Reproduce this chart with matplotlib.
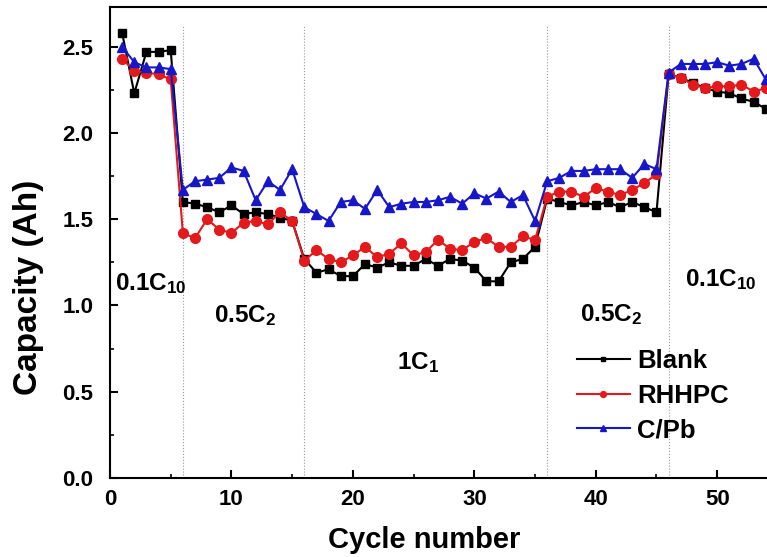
import matplotlib
matplotlib.use("Agg")
import matplotlib.pyplot as plt
import numpy as np

plt.rcParams['font.family'] = ['Liberation Sans', 'DejaVu Sans']
plt.rcParams['font.weight'] = 'bold'
plt.rcParams['mathtext.fontset'] = 'custom'
plt.rcParams['mathtext.rm'] = 'Liberation Sans:bold'
plt.rcParams['mathtext.bf'] = 'Liberation Sans:bold'
plt.rcParams['mathtext.default'] = 'bf'

cycles = np.arange(1, 55)

blank = [2.58, 2.23, 2.47, 2.47, 2.48,
         1.60, 1.59, 1.57, 1.54, 1.58, 1.53, 1.54, 1.53, 1.51, 1.49,
         1.27, 1.19, 1.21, 1.17, 1.17, 1.24, 1.22, 1.25, 1.23, 1.23,
         1.27, 1.23, 1.27, 1.26, 1.22, 1.14, 1.14, 1.25, 1.27, 1.34,
         1.62, 1.60, 1.58, 1.60, 1.58, 1.60, 1.57, 1.60, 1.57, 1.54,
         2.34, 2.32, 2.29, 2.26, 2.24, 2.23, 2.20, 2.18, 2.14]

rhhpc = [2.43, 2.36, 2.35, 2.34, 2.31,
         1.42, 1.39, 1.50, 1.44, 1.42, 1.48, 1.49, 1.47, 1.54, 1.49,
         1.26, 1.32, 1.27, 1.25, 1.29, 1.34, 1.28, 1.30, 1.36, 1.29,
         1.31, 1.38, 1.33, 1.32, 1.37, 1.39, 1.34, 1.34, 1.40, 1.38,
         1.63, 1.66, 1.66, 1.63, 1.68, 1.66, 1.64, 1.67, 1.71, 1.76,
         2.34, 2.32, 2.28, 2.26, 2.27, 2.27, 2.28, 2.24, 2.26]

cpb = [2.50, 2.41, 2.38, 2.38, 2.37,
       1.67, 1.72, 1.73, 1.74, 1.80, 1.78, 1.61, 1.72, 1.67, 1.79,
       1.57, 1.53, 1.49, 1.60, 1.61, 1.56, 1.67, 1.57, 1.59, 1.60,
       1.60, 1.61, 1.63, 1.59, 1.65, 1.62, 1.66, 1.60, 1.64, 1.49,
       1.72, 1.74, 1.78, 1.78, 1.79, 1.79, 1.79, 1.74, 1.82, 1.79,
       2.35, 2.40, 2.40, 2.40, 2.41, 2.39, 2.40, 2.43, 2.31]

boundaries = [6, 16, 36, 46]
rate_labels = [r'0.1C$_{10}$', r'0.5C$_{2}$', r'1C$_{1}$', r'0.5C$_{2}$', r'0.1C$_{10}$']
rate_pos = [(3.4, 1.13), (11.1, 0.94), (25.4, 0.67), (41.3, 0.95), (50.3, 1.15)]

fig = plt.figure(figsize=(7.67, 5.57), dpi=100)
ax = fig.add_axes([0.1434, 0.1418, 0.8566, 0.8456])

for b in boundaries:
    ax.plot([b, b], [0, 2.62], color='#999999', lw=0.8, ls=':', zorder=1)

ax.plot(cycles, blank, color='black', marker='s', ms=6, lw=1.5, label='Blank', zorder=3)
ax.plot(cycles, rhhpc, color='#e3191c', marker='o', ms=7, lw=1.5, label='RHHPC', zorder=4)
ax.plot(cycles, cpb, color='#1717c8', marker='^', ms=7, lw=1.5, label='C/Pb', zorder=5)

for txt, (x, y) in zip(rate_labels, rate_pos):
    ax.text(x, y, txt, fontsize=17.5, ha='center', va='center')

ax.set_xlim(0, 54.1)
ax.set_ylim(0, 2.73)
ax.set_xticks([0, 10, 20, 30, 40, 50])
ax.set_xticks([5, 15, 25, 35, 45], minor=True)
ax.set_yticks([0.0, 0.5, 1.0, 1.5, 2.0, 2.5])
ax.set_yticks([0.25, 0.75, 1.25, 1.75, 2.25], minor=True)
ax.set_yticklabels(['0.0', '0.5', '1.0', '1.5', '2.0', '2.5'])
ax.tick_params(which='major', direction='in', length=6, width=1.5, labelsize=16)
ax.tick_params(axis='y', which='major', pad=12)
ax.tick_params(axis='x', which='major', pad=8)
ax.tick_params(which='minor', direction='in', length=3, width=1.2)
for s in ax.spines.values():
    s.set_linewidth(1.5)
ax.spines['right'].set_visible(False)

ax.set_xlabel('Cycle number', fontsize=21, fontweight='bold')
ax.set_ylabel('Capacity (Ah)', fontsize=24, fontweight='bold')
ax.xaxis.set_label_coords(0.478, -0.102)
ax.yaxis.set_label_coords(-0.1, 0.405)

leg = ax.legend(loc='upper left', bbox_to_anchor=(0.675, 0.322), frameon=False,
                fontsize=18.5, handlelength=2.06, markerscale=0.6, labelspacing=0.4,
                handletextpad=0.3)

fig.savefig('out.png', dpi=100)
